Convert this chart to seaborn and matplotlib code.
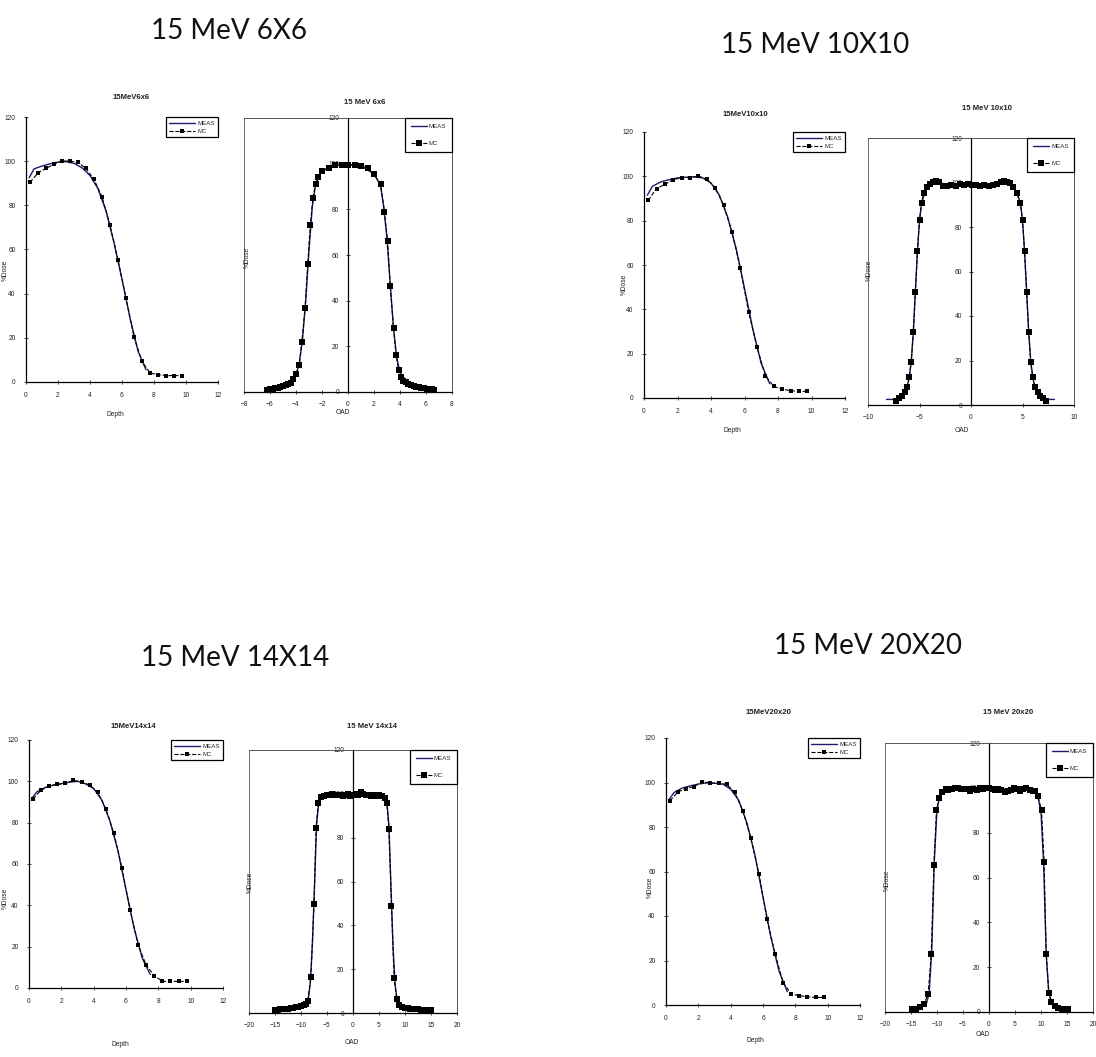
import matplotlib as mpl
mpl.use('Agg')
import matplotlib.pyplot as plt
from matplotlib.patches import Rectangle
import seaborn as sb

W, H = 1096, 1057

# ---------------- data ----------------
# depth dose (PDD): MC points at every 0.5 cm
pdd_depth = [0.25, 0.75, 1.25, 1.75, 2.25, 2.75, 3.25, 3.75, 4.25, 4.75,
             5.25, 5.75, 6.25, 6.75, 7.25, 7.75, 8.25, 8.75, 9.25, 9.75]
pdd6_mc = [90.4, 94.7, 96.7, 98.6, 100.1, 100.0, 99.4, 96.7, 91.7, 83.9,
           71.1, 55.3, 38.0, 20.3, 9.3, 4.1, 3.3, 2.9, 2.9, 2.9]
pdd10_mc = [89.2, 94.5, 96.4, 98.5, 99.4, 99.4, 100.1, 98.7, 94.9, 87.0,
            75.0, 58.5, 38.7, 22.8, 10.0, 5.2, 4.0, 3.3, 3.0, 3.0]
pdd14_mc = [91.5, 95.8, 97.7, 98.5, 99.0, 100.5, 99.7, 98.2, 94.8, 86.8,
            74.9, 58.0, 37.8, 20.9, 11.0, 6.0, 3.2, 3.2, 3.2, 3.2]
pdd20_mc = [91.9, 95.8, 97.3, 98.2, 100.4, 99.7, 99.7, 99.2, 95.6, 87.3,
            75.0, 58.9, 38.5, 22.9, 10.0, 4.9, 4.2, 3.7, 3.4, 3.4]

# measured depth dose
meas_depth = [0.2, 0.5, 1.0, 1.5, 2.0, 2.5, 3.0, 3.5, 4.0, 4.5, 5.0, 5.5, 6.0, 6.5, 7.0, 7.5]
pdd6_meas = [92.5, 96.5, 97.8, 98.8, 99.6, 99.8, 99.0, 97.0, 93.5, 87.5, 77.5, 63.0, 46.5, 29.0, 14.0, 5.5]
pdd10_meas = [91.5, 95.5, 97.5, 98.5, 99.3, 99.6, 99.8, 99.3, 97.0, 91.5, 81.5, 67.5, 49.5, 31.0, 15.5, 6.5]
pdd14_meas = [92.0, 95.0, 97.0, 98.2, 98.9, 99.6, 100.0, 98.8, 96.5, 91.0, 81.0, 66.5, 47.5, 29.0, 14.5, 6.5]
pdd20_meas = [92.5, 95.5, 97.5, 98.5, 99.3, 99.8, 99.7, 99.3, 97.0, 92.0, 82.0, 67.5, 48.5, 30.0, 15.0, 6.0]

# off-axis profiles, 6x6
prof6_mc_x = [-6.2, -6.0, -5.8, -5.6, -5.4, -5.2, -5.0, -4.8, -4.6, -4.4, -4.2, -4.0, -3.75, -3.55, -3.3,
              -3.1, -2.9, -2.7, -2.5, -2.3, -2.0, -1.5, -1.0, -0.5, 0.0, 0.5, 1.0, 1.5, 2.0, 2.5,
              2.8, 3.05, 3.25, 3.5, 3.7, 3.9, 4.05, 4.25, 4.45, 4.65, 4.85, 5.05, 5.25, 5.45, 5.65,
              5.85, 6.05, 6.25, 6.45, 6.65]
prof6_mc = [1.0, 1.2, 1.4, 1.6, 1.9, 2.2, 2.5, 2.9, 3.3, 4.0, 5.5, 7.7, 12.0, 22.0, 37.0,
            56.0, 73.0, 85.0, 91.0, 94.0, 96.8, 98.2, 99.3, 99.3, 99.6, 99.3, 99.0, 98.1, 95.3, 91.0,
            79.0, 66.0, 46.5, 28.0, 16.0, 9.5, 6.6, 5.0, 4.2, 3.6, 3.1, 2.7, 2.4, 2.1, 1.9,
            1.7, 1.5, 1.3, 1.1, 1.0]
prof6_meas_x = [-6.3, -5.5, -5.0, -4.5, -4.0, -3.75, -3.5, -3.25, -3.0, -2.75, -2.5, -2.25, -2.0, -1.0, 0.0,
                1.0, 2.0, 2.5, 2.75, 3.0, 3.25, 3.5, 3.75, 4.0, 4.5, 5.0, 5.5, 6.0, 6.5, 6.8]
prof6_meas = [1.5, 2.0, 2.6, 3.8, 7.5, 12.5, 23.0, 40.0, 62.0, 81.0, 90.5, 94.5, 96.8, 99.2, 99.6,
              99.0, 95.5, 90.5, 81.0, 67.0, 47.0, 28.0, 15.0, 8.5, 4.8, 3.5, 2.9, 2.3, 1.7, 1.4]

# 10x10
prof10_mc_x = [-7.3, -7.0, -6.7, -6.4, -6.2, -6.0, -5.8, -5.6, -5.4, -5.2, -5.0, -4.8, -4.6, -4.3, -4.0,
               -3.7, -3.4, -3.1, -2.7, -2.3, -1.9, -1.5, -1.1, -0.7, -0.3, 0.1, 0.5, 0.9, 1.3, 1.7,
               2.1, 2.5, 2.9, 3.2, 3.5, 3.8, 4.1, 4.45, 4.8, 5.0, 5.2, 5.4, 5.6, 5.8, 6.0,
               6.2, 6.5, 6.7, 7.0, 7.3]
prof10_mc = [2.0, 3.0, 4.0, 6.0, 8.0, 12.4, 19.5, 32.7, 51.0, 69.3, 83.0, 90.7, 95.2, 97.9, 99.4,
             100.3, 100.8, 100.1, 98.5, 98.6, 99.0, 98.6, 99.2, 98.7, 99.3, 98.8, 99.1, 98.5, 99.0, 98.4,
             98.9, 99.3, 100.2, 100.6, 100.4, 99.7, 98.2, 95.2, 90.7, 83.0, 69.3, 51.0, 32.7, 19.5, 12.4,
             8.0, 6.0, 4.0, 3.0, 2.0]
prof10_meas_x = [-8.2, -7.3, -7.0, -6.5, -6.2, -6.0, -5.8, -5.6, -5.4, -5.2, -5.0, -4.8, -4.5, -4.0, -3.5,
                 -3.0, -2.0, -1.0, 0.0, 1.0, 2.0, 3.0, 3.5, 4.0, 4.5, 4.8, 5.0, 5.2, 5.4, 5.6,
                 5.8, 6.0, 6.2, 6.5, 7.0, 7.3, 8.1]
prof10_meas = [2.5, 2.5, 3.0, 5.0, 8.0, 12.5, 19.5, 33.0, 51.0, 69.0, 83.0, 90.5, 95.5, 99.0, 100.3,
               99.8, 98.9, 98.9, 98.9, 98.8, 98.9, 99.8, 100.2, 98.8, 95.0, 90.5, 83.0, 69.0, 51.0, 33.0,
               19.5, 12.5, 8.0, 5.5, 3.0, 2.5, 2.5]

# 14x14
prof14_mc_x = [-15.0, -14.5, -14.0, -13.5, -13.0, -12.5, -12.0, -11.5, -11.0, -10.5, -10.0, -9.5, -9.0, -8.7, -8.1,
               -7.5, -7.1, -6.7, -6.2, -5.5, -5.0, -4.5, -4.0, -3.5, -3.0, -2.5, -2.0, -1.5, -1.0, -0.5,
               0.0, 0.5, 1.0, 1.5, 2.0, 2.5, 3.0, 3.5, 4.0, 4.5, 5.0, 5.6, 6.1, 6.5, 6.9,
               7.4, 7.9, 8.4, 8.8, 9.5, 10.0, 10.5, 11.0, 11.5, 12.0, 12.5, 13.0, 13.5, 14.0, 14.5, 15.0]
prof14_mc = [1.4, 1.5, 1.6, 1.7, 1.8, 2.0, 2.2, 2.4, 2.7, 2.9, 3.2, 3.6, 4.2, 5.7, 16.3,
             49.6, 84.4, 96.0, 98.5, 99.2, 99.5, 99.6, 99.8, 99.3, 99.5, 99.6, 99.2, 99.5, 99.8, 99.0,
             99.3, 99.8, 99.6, 101.0, 99.8, 99.3, 99.5, 99.0, 99.4, 99.2, 99.6, 99.0, 98.0, 96.0, 84.0,
             49.0, 16.0, 6.5, 3.5, 2.8, 2.4, 2.2, 2.0, 1.9, 1.8, 1.6, 1.5, 1.4, 1.3, 1.2, 1.2]
prof14_meas_x = [-15.0, -12.0, -10.0, -9.0, -8.6, -8.2, -7.8, -7.4, -7.0, -6.6, -6.0, -4.0, 0.0, 4.0, 6.0,
                 6.5, 6.9, 7.3, 7.7, 8.1, 8.5, 9.0, 10.0, 12.0, 15.0]
prof14_meas = [1.3, 2.1, 3.0, 4.0, 6.0, 14.0, 32.0, 58.0, 86.0, 95.5, 98.8, 99.5, 99.5, 99.4, 98.8,
               96.5, 86.0, 58.0, 30.0, 13.0, 5.5, 3.6, 2.5, 1.8, 1.2]

# 20x20
prof20_mc_x = [-14.9, -14.0, -13.3, -12.5, -11.7, -11.1, -10.6, -10.1, -9.6, -9.0, -8.3, -7.8, -7.2, -6.6, -6.0,
               -5.4, -4.8, -4.2, -3.6, -3.0, -2.4, -1.8, -1.2, -0.6, 0.0, 0.6, 1.2, 1.8, 2.4, 3.0,
               3.6, 4.2, 4.8, 5.4, 6.0, 6.6, 7.2, 7.8, 8.4, 8.9, 9.4, 10.1, 10.6, 11.0, 11.5,
               12.0, 12.6, 13.3, 14.0, 14.6, 15.1]
prof20_mc = [1.2, 1.5, 2.2, 3.4, 8.2, 26.0, 65.7, 90.0, 95.4, 98.2, 99.4, 99.0, 99.6, 99.8, 99.9,
             99.4, 99.7, 99.5, 98.8, 99.6, 99.0, 99.8, 99.6, 99.8, 99.9, 99.5, 99.0, 99.6, 99.2, 98.2,
             98.8, 99.0, 99.9, 99.3, 98.8, 99.5, 100.0, 99.0, 98.8, 98.6, 96.4, 90.0, 66.7, 26.0, 8.4,
             4.5, 2.7, 2.0, 1.5, 1.3, 1.2]
prof20_meas_x = [-15.0, -13.0, -12.0, -11.5, -11.0, -10.5, -10.0, -9.5, -9.0, -8.0, -5.0, 0.0, 5.0, 7.8, 9.0,
                 9.5, 10.0, 10.5, 11.0, 11.5, 12.0, 13.0, 15.0]
prof20_meas = [1.3, 2.5, 4.0, 8.5, 28.0, 68.0, 90.5, 96.0, 98.5, 99.3, 99.5, 99.6, 99.4, 99.5, 97.5,
               95.0, 89.0, 66.0, 26.0, 8.5, 4.5, 2.2, 1.2]

big_titles = ['15 MeV 6X6', '15 MeV 10X10', '15 MeV 14X14', '15 MeV 20X20']
pdd_titles = ['15MeV6x6', '15MeV10x10', '15MeV14x14', '15MeV20x20']
prof_titles = ['15 MeV 6x6', '15 MeV 10x10', '15 MeV 14x14', '15 MeV 20x20']

# ---------------- layout (pixel positions in the 1096x1057 sheet) ----------------
panels = [
    dict(big=(229, 31), pdd=(26, 117, 218, 382), pdd_t=(131, 97), pdd_xl=(115, 415), pdd_yl=(5, 270),
         prof=(244, 118, 452, 392), prof_t=(365, 102), prof_xl=(343, 413), prof_yl=(247, 257),
         lim=8, step=2),
    dict(big=(815, 45), pdd=(644, 132, 845, 398), pdd_t=(745, 115), pdd_xl=(732, 431), pdd_yl=(624, 284),
         prof=(868, 138, 1074, 405), prof_t=(987, 108), prof_xl=(962, 431), prof_yl=(869, 270),
         lim=10, step=5),
    dict(big=(235, 658), pdd=(29, 740, 223, 988), pdd_t=(133, 727), pdd_xl=(120, 1045), pdd_yl=(5, 898),
         prof=(249, 750, 457, 1013), prof_t=(372, 727), prof_xl=(352, 1043), prof_yl=(250, 882),
         lim=20, step=5),
    dict(big=(868, 646), pdd=(666, 738, 860, 1005), pdd_t=(768, 712), pdd_xl=(755, 1040), pdd_yl=(650, 887),
         prof=(885, 743, 1093, 1012), prof_t=(1008, 712), prof_xl=(983, 1035), prof_yl=(887, 880),
         lim=20, step=5),
]

pdd_meas = [pdd6_meas, pdd10_meas, pdd14_meas, pdd20_meas]
pdd_mc = [pdd6_mc, pdd10_mc, pdd14_mc, pdd20_mc]
prof_meas = [(prof6_meas_x, prof6_meas), (prof10_meas_x, prof10_meas),
             (prof14_meas_x, prof14_meas), (prof20_meas_x, prof20_meas)]
prof_mc = [(prof6_mc_x, prof6_mc), (prof10_mc_x, prof10_mc),
           (prof14_mc_x, prof14_mc), (prof20_mc_x, prof20_mc)]

sb.set_style('white')
plt.rcParams['font.family'] = ['Liberation Sans', 'DejaVu Sans']

MEAS_C = '#1c1c6a'
SMALL = 4.8
TXT_C = '#222222'

fig = plt.figure(figsize=(W / 100, H / 100), dpi=100)


def rect(l, t, r, b):
    return [l / W, 1 - b / H, (r - l) / W, (b - t) / H]


def ftext(xy, s, **kw):
    fig.text(xy[0] / W, 1 - xy[1] / H, s, ha='center', va='center', **kw)


def add_legend(ax, tall=False):
    leg = ax.legend(loc='upper right', fontsize=4.4, frameon=True, fancybox=False,
                    borderaxespad=0.0, handlelength=4.2 if not tall else 2.6,
                    handletextpad=0.4,
                    labelspacing=2.0 if tall else 0.45,
                    borderpad=0.9 if tall else 0.55)
    leg.get_frame().set_edgecolor('black')
    leg.get_frame().set_linewidth(0.9)
    leg.get_frame().set_alpha(1)


for i, p in enumerate(panels):
    ftext(p['big'], big_titles[i], fontsize=20, family='Lato', color='#111111')

    # depth dose panel
    ax = fig.add_axes(rect(*p['pdd']))
    sb.lineplot(x=meas_depth, y=pdd_meas[i], ax=ax, color=MEAS_C, lw=1.0,
                label='MEAS', sort=False)
    sb.lineplot(x=pdd_depth, y=pdd_mc[i], ax=ax, color='black', lw=0.8, ls='--',
                marker='s', markersize=3.2, markeredgecolor='black', markeredgewidth=0,
                label='MC', sort=False)
    ax.set_xlim(0, 12)
    ax.set_ylim(0, 120)
    ax.set_xticks(range(0, 13, 2))
    ax.set_yticks(range(0, 121, 20))
    for s in ['top', 'right']:
        ax.spines[s].set_visible(False)
    for s in ['left', 'bottom']:
        ax.spines[s].set_color('black')
        ax.spines[s].set_linewidth(0.9)
    ax.tick_params(labelsize=SMALL, length=3, width=0.6, direction='inout', pad=6,
                   left=True, bottom=True, colors=TXT_C)
    ax.set_xlabel('')
    ax.set_ylabel('')
    add_legend(ax)
    ftext(p['pdd_t'], pdd_titles[i], fontsize=5.6, fontweight='bold', color=TXT_C)
    ftext(p['pdd_xl'], 'Depth', fontsize=SMALL, color=TXT_C)
    ftext(p['pdd_yl'], '%Dose', fontsize=SMALL, rotation=90, color=TXT_C)

    # off-axis profile panel
    ax = fig.add_axes(rect(*p['prof']))
    mx, my = prof_meas[i]
    cx, cy = prof_mc[i]
    sb.lineplot(x=mx, y=my, ax=ax, color=MEAS_C, lw=1.0, label='MEAS', sort=False)
    sb.lineplot(x=cx, y=cy, ax=ax, color='black', lw=0.8, ls='--',
                marker='s', markersize=4.2, markeredgecolor='black', markeredgewidth=0,
                label='MC', sort=False)
    lim = p['lim']
    ax.set_xlim(-lim, lim)
    ax.set_ylim(0, 120)
    ax.set_xticks(range(-lim, lim + 1, p['step']))
    ax.set_yticks(range(0, 121, 20))
    ax.spines['left'].set_position(('data', 0))
    ax.spines['left'].set_color('black')
    ax.spines['left'].set_linewidth(0.9)
    ax.spines['bottom'].set_color('black')
    ax.spines['bottom'].set_linewidth(0.9)
    for s in ['top', 'right']:
        ax.spines[s].set_color('#555555')
        ax.spines[s].set_linewidth(0.6)
    ax.add_patch(Rectangle((0, 0), 1, 1, transform=ax.transAxes, fill=False,
                           lw=0.6, ec='#555555', clip_on=False))
    ax.tick_params(labelsize=SMALL, length=3, width=0.6, direction='inout', pad=5,
                   left=True, bottom=True, colors=TXT_C)
    ax.set_xlabel('')
    ax.set_ylabel('')
    add_legend(ax, tall=True)
    ftext(p['prof_t'], prof_titles[i], fontsize=5.6, fontweight='bold', color=TXT_C)
    ftext(p['prof_xl'], 'OAD', fontsize=SMALL, color=TXT_C)
    ftext(p['prof_yl'], '%Dose', fontsize=SMALL, rotation=90, color=TXT_C)

fig.savefig('out.png', dpi=100, facecolor='white')
